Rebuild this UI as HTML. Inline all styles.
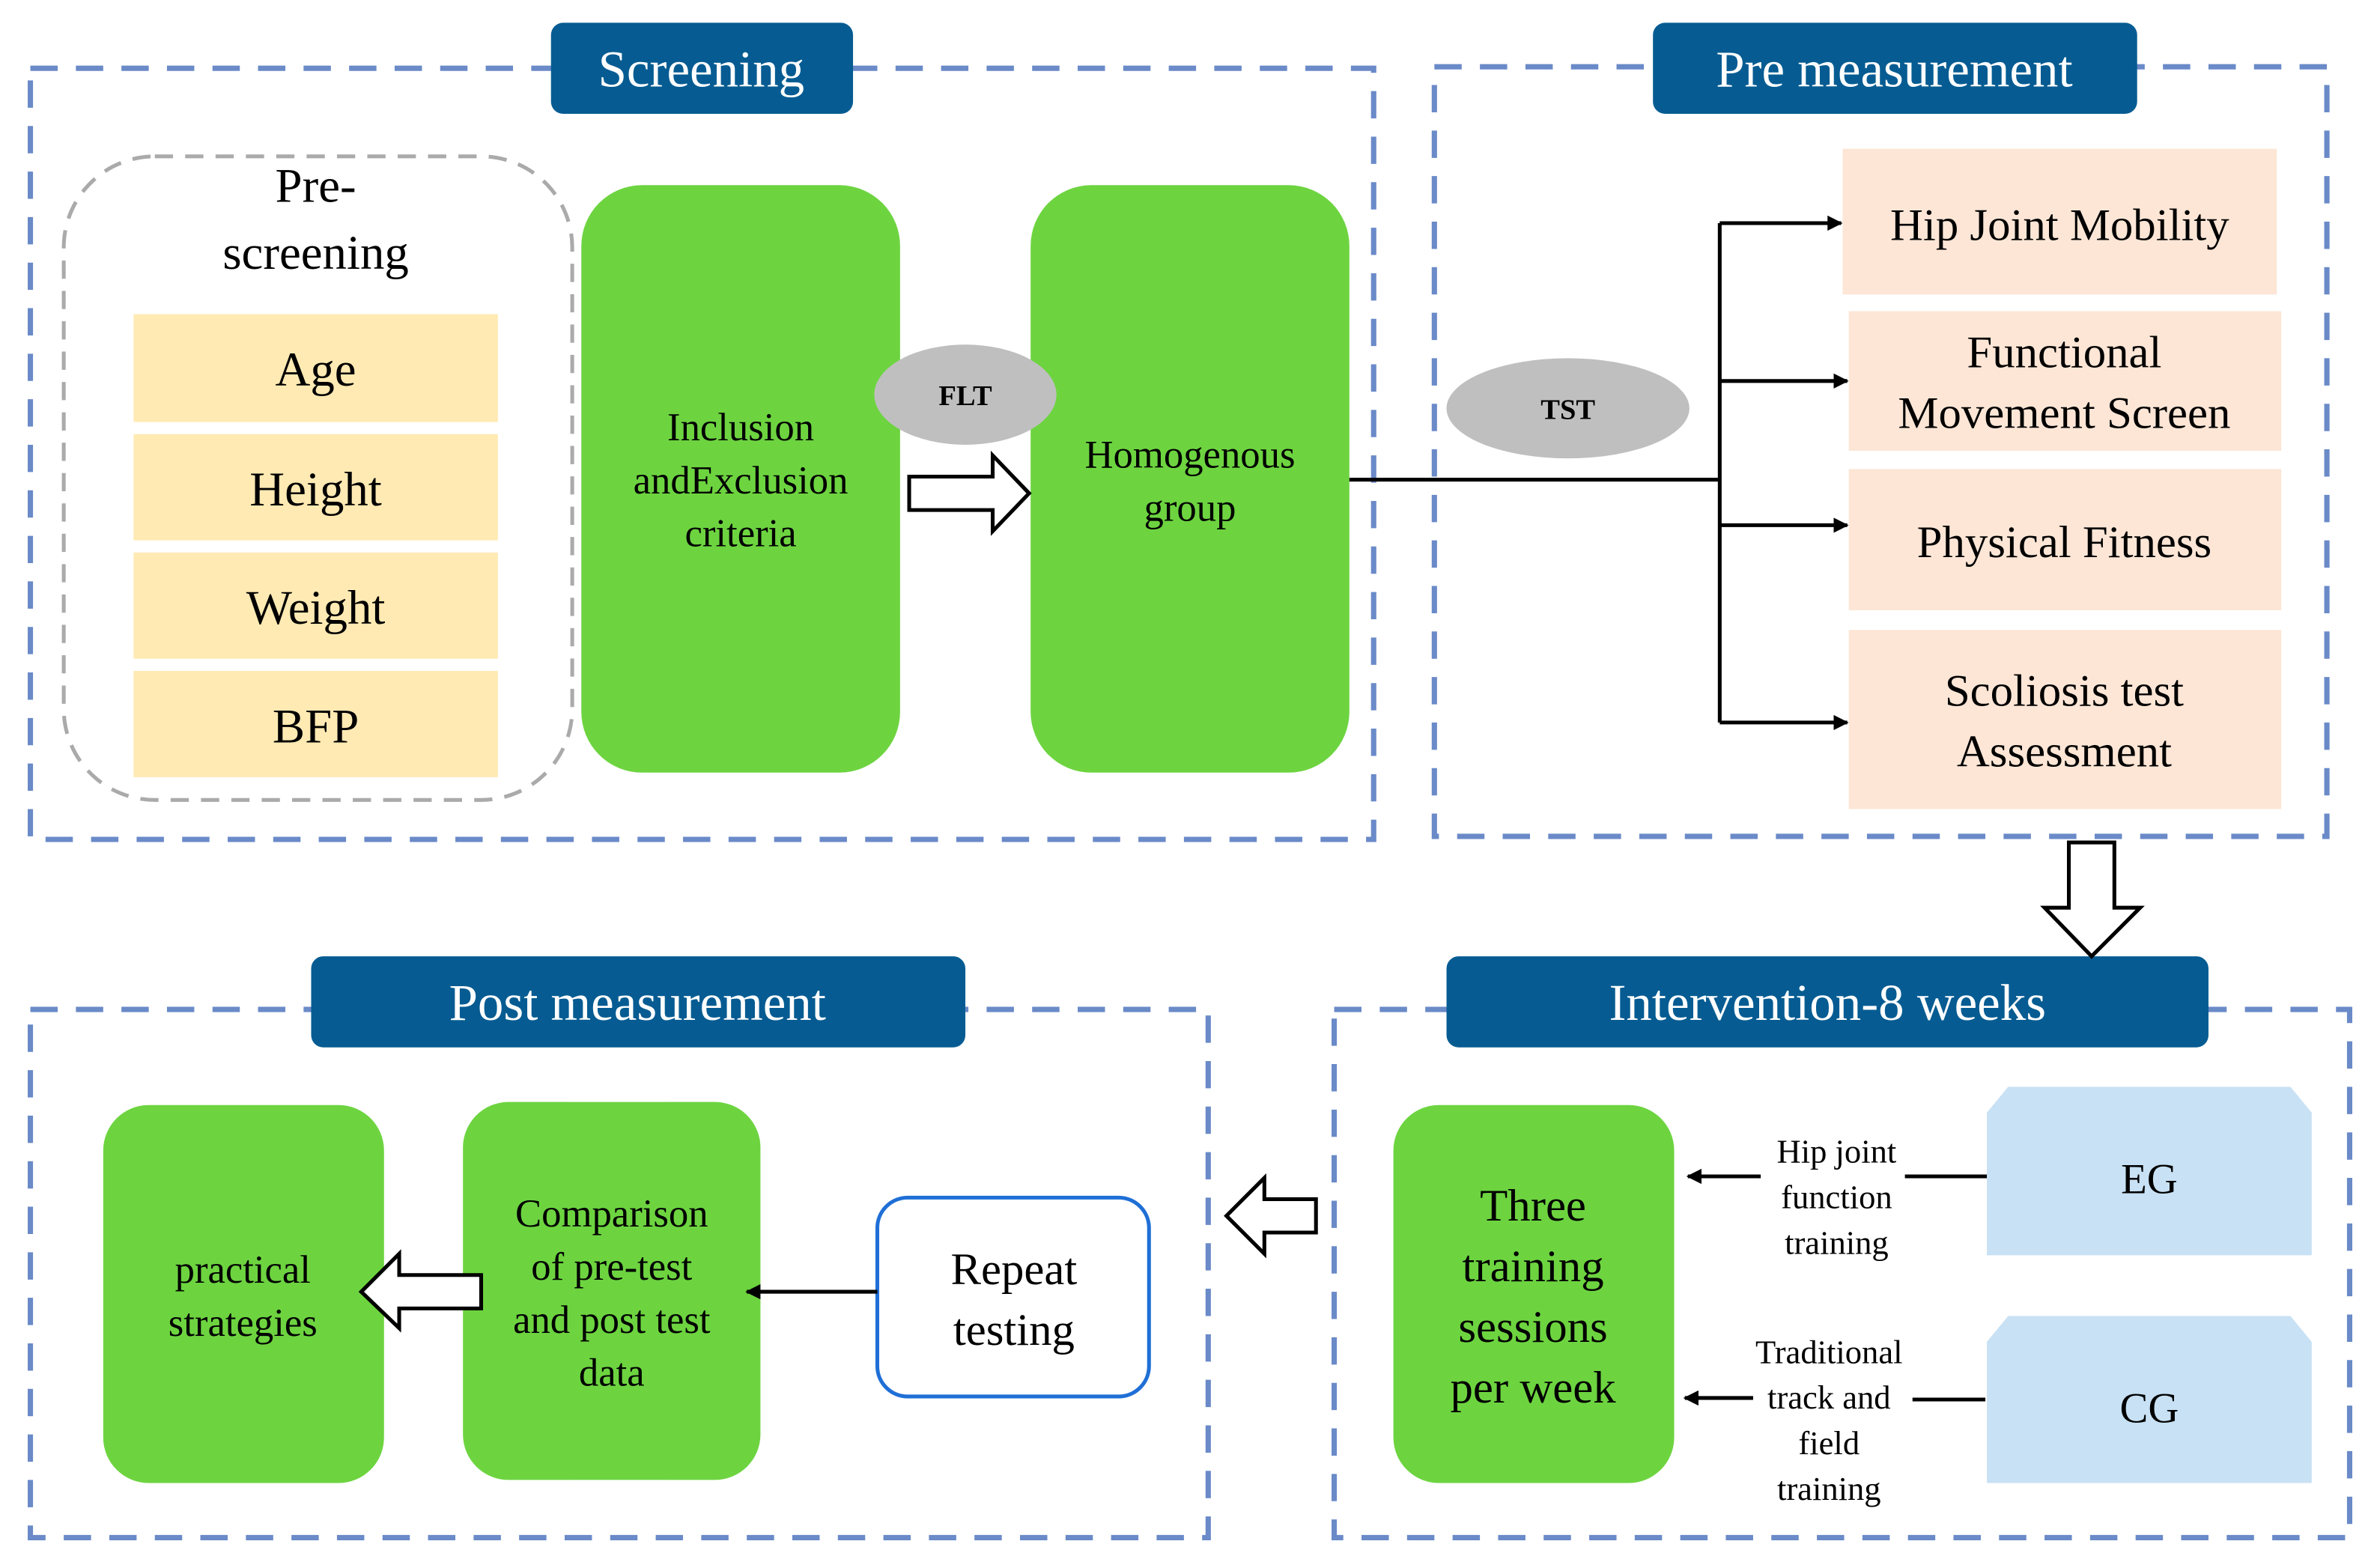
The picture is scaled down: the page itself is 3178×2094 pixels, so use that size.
<!DOCTYPE html>
<html><head><meta charset="utf-8"><style>html,body{margin:0;padding:0;background:#fff}svg{display:block}svg text{font-family:"Liberation Serif","DejaVu Serif",serif}</style></head>
<body>
<svg width="3178" height="2094" viewBox="0 0 1568 1033" preserveAspectRatio="none" xmlns="http://www.w3.org/2000/svg">
<defs>
<marker id="ah" markerWidth="10" markerHeight="10" refX="9" refY="5" orient="auto" markerUnits="userSpaceOnUse"><path d="M0,0 L10,5 L0,10 z" fill="#000"/></marker>
</defs>
<g fill="none" stroke="#6a8ac8" stroke-width="3.5" stroke-dasharray="18 12">
<rect x="20" y="45" width="885" height="508"/>
<rect x="945" y="44" width="588" height="507"/>
<rect x="20" y="665" width="776" height="348"/>
<rect x="879" y="665" width="669" height="348"/>
</g>
<g fill="#065c92">
<rect x="363" y="15" width="199" height="60" rx="8"/>
<rect x="1089" y="15" width="319" height="60" rx="8"/>
<rect x="205" y="630" width="431" height="60" rx="8"/>
<rect x="953" y="630" width="502" height="60" rx="8"/>
</g>
<g fill="#fff" font-size="34" text-anchor="middle">
<text x="462" y="57">Screening</text>
<text x="1248" y="57">Pre measurement</text>
<text x="420" y="672">Post measurement</text>
<text x="1204" y="672">Intervention-8 weeks</text>
</g>
<rect x="42" y="103" width="335" height="424" rx="60" fill="none" stroke="#aaa" stroke-width="2.5" stroke-dasharray="12 8"/>
<g font-size="32" text-anchor="middle" fill="#000">
<text x="208" y="133">Pre-</text>
<text x="208" y="177">screening</text>
</g>
<g fill="#ffeab3">
<rect x="88" y="207" width="240" height="71"/>
<rect x="88" y="286" width="240" height="70"/>
<rect x="88" y="364" width="240" height="70"/>
<rect x="88" y="442" width="240" height="70"/>
</g>
<g font-size="32" text-anchor="middle">
<text x="208" y="254">Age</text>
<text x="208" y="333">Height</text>
<text x="208" y="411">Weight</text>
<text x="208" y="489">BFP</text>
</g>
<g fill="#6dd440">
<rect x="383" y="122" width="210" height="387" rx="40"/>
<rect x="679" y="122" width="210" height="387" rx="40"/>
<rect x="68" y="728" width="185" height="249" rx="30"/>
<rect x="305" y="726" width="196" height="249" rx="30"/>
<rect x="918" y="728" width="185" height="249" rx="30"/>
</g>
<g font-size="26" text-anchor="middle">
<text x="488" y="290">Inclusion</text>
<text x="488" y="325">andExclusion</text>
<text x="488" y="360">criteria</text>
<text x="784" y="308">Homogenous</text>
<text x="784" y="343">group</text>
<text x="160" y="845">practical</text>
<text x="160" y="880">strategies</text>
<text x="403" y="808">Comparison</text>
<text x="403" y="843">of pre-test</text>
<text x="403" y="878">and post test</text>
<text x="403" y="913">data</text>
</g>
<g font-size="30" text-anchor="middle">
<text x="1010" y="804">Three</text>
<text x="1010" y="844">training</text>
<text x="1010" y="884">sessions</text>
<text x="1010" y="924">per week</text>
</g>
<rect x="578" y="789" width="179" height="131" rx="20" fill="#fff" stroke="#1f6fd6" stroke-width="2.5"/>
<text x="668" y="846" font-size="30" text-anchor="middle">Repeat</text>
<text x="668" y="886" font-size="30" text-anchor="middle">testing</text>
<ellipse cx="636" cy="260" rx="60" ry="33" fill="#bfbfbf"/>
<text x="636" y="267" font-size="19" font-weight="bold" text-anchor="middle">FLT</text>
<ellipse cx="1033" cy="269" rx="80" ry="33" fill="#bfbfbf"/>
<text x="1033" y="276" font-size="19" font-weight="bold" text-anchor="middle">TST</text>
<g fill="#fff" stroke="#000" stroke-width="2.5">
<path d="M599,314 L654,314 L654,300 L678,325 L654,350 L654,336 L599,336 z"/>
<path d="M1363,555 L1393,555 L1393,598 L1410,598 L1378,630 L1347,598 L1363,598 z"/>
<path d="M867,790 L833,790 L833,776 L808,801 L833,826 L833,812 L867,812 z"/>
<path d="M317,840 L263,840 L263,826 L238,851 L263,875 L263,862 L317,862 z"/>
</g>
<g stroke="#000" stroke-width="2.5" fill="none">
<line x1="889" y1="316" x2="1133" y2="316"/>
<line x1="1133" y1="147" x2="1133" y2="476"/>
<line x1="1133" y1="147" x2="1213" y2="147" marker-end="url(#ah)"/>
<line x1="1133" y1="251" x2="1217" y2="251" marker-end="url(#ah)"/>
<line x1="1133" y1="346" x2="1217" y2="346" marker-end="url(#ah)"/>
<line x1="1133" y1="476" x2="1217" y2="476" marker-end="url(#ah)"/>
<line x1="578" y1="851" x2="492" y2="851" marker-end="url(#ah)"/>
<line x1="1309" y1="775" x2="1255" y2="775"/>
<line x1="1160" y1="775" x2="1112" y2="775" marker-end="url(#ah)"/>
<line x1="1308" y1="922" x2="1260" y2="922"/>
<line x1="1155" y1="921" x2="1110" y2="921" marker-end="url(#ah)"/>
</g>
<g fill="#fde6d6">
<rect x="1214" y="98" width="286" height="96"/>
<rect x="1218" y="205" width="285" height="92"/>
<rect x="1218" y="309" width="285" height="93"/>
<rect x="1218" y="415" width="285" height="118"/>
</g>
<g font-size="30" text-anchor="middle">
<text x="1357" y="158">Hip Joint Mobility</text>
<text x="1360" y="242">Functional</text>
<text x="1360" y="282">Movement Screen</text>
<text x="1360" y="367">Physical Fitness</text>
<text x="1360" y="465">Scoliosis test</text>
<text x="1360" y="505">Assessment</text>
</g>
<g fill="#c8e1f4">
<path d="M1323,716 L1509,716 L1523,733 L1523,827 L1309,827 L1309,733 z"/>
<path d="M1323,867 L1509,867 L1523,884 L1523,977 L1309,977 L1309,884 z"/>
</g>
<g font-size="28" text-anchor="middle">
<text x="1416" y="786">EG</text>
<text x="1416" y="937">CG</text>
</g>
<g font-size="22" text-anchor="middle">
<text x="1210" y="766">Hip joint</text>
<text x="1210" y="796">function</text>
<text x="1210" y="826">training</text>
<text x="1205" y="898">Traditional</text>
<text x="1205" y="928">track and</text>
<text x="1205" y="958">field</text>
<text x="1205" y="988">training</text>
</g>
</svg>
</body></html>
